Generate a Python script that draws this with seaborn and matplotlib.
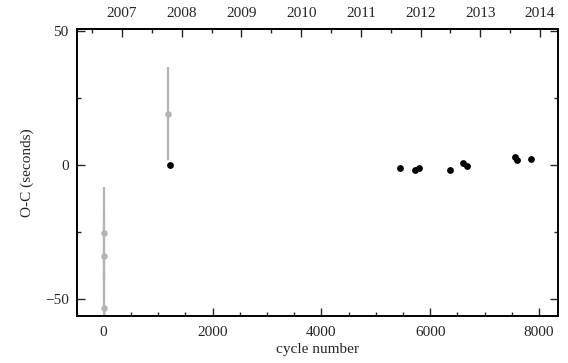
import numpy as np
import pandas as pd
import matplotlib
matplotlib.use("Agg")
import matplotlib.pyplot as plt
import seaborn as sns
from matplotlib.ticker import MultipleLocator, FixedLocator

sns.set_theme(style="ticks")
plt.rcParams['font.family'] = ['Liberation Serif', 'DejaVu Serif']

# Early (gray) timings with error bars
gray_cycle = [0, 5, 10, 1180]
gray_oc = [-25.5, -34.0, -53.5, 19.0]
gray_err = [17.0, 16.0, 14.0, 17.3]

# Later (black) timings
black_cycle = [1210, 5440, 5713, 5787, 6357, 6603, 6676, 7564, 7595, 7858]
black_oc = [-0.3, -1.1, -1.9, -1.3, -1.9, 0.5, -0.5, 2.7, 1.8, 2.1]

years = [2007, 2008, 2009, 2010, 2011, 2012, 2013, 2014]
year0_cycle = 335.0
cycles_per_year = 1098.0

df_gray = pd.DataFrame({"cycle": gray_cycle, "oc": gray_oc, "err": gray_err})
df_black = pd.DataFrame({"cycle": black_cycle, "oc": black_oc})

fig = plt.figure(figsize=(5.68, 3.63), dpi=100)
ax = fig.add_axes([0.1356, 0.1295, 0.8468, 0.7895])

gcol = "#b4b4b4"
ax.errorbar(df_gray["cycle"], df_gray["oc"], yerr=df_gray["err"], fmt="none",
            ecolor=gcol, elinewidth=1.6, capsize=0, zorder=1)
sns.scatterplot(data=df_gray, x="cycle", y="oc", ax=ax, color=gcol, s=22,
                edgecolor=gcol, linewidth=0, zorder=2, legend=False)
sns.scatterplot(data=df_black, x="cycle", y="oc", ax=ax, color="black", s=24,
                edgecolor="black", linewidth=0, zorder=3, legend=False)

ax.set_xlim(-490, 8350)
ax.set_ylim(-56.5, 50.5)
ax.xaxis.set_major_locator(MultipleLocator(2000))
ax.xaxis.set_minor_locator(MultipleLocator(500))
ax.yaxis.set_major_locator(MultipleLocator(50))
ax.yaxis.set_minor_locator(MultipleLocator(25))
ax.set_xlabel("cycle number", fontsize=11, labelpad=3)
ax.set_ylabel("O-C (seconds)", fontsize=11, labelpad=8)
ax.tick_params(which="both", direction="in", top=False, right=True, labelsize=11, width=1.0)
ax.tick_params(axis="x", which="both", pad=7)
ax.tick_params(axis="y", which="both", pad=6)
ax.tick_params(which="major", length=6)
ax.tick_params(which="minor", length=3)
ax.yaxis.set_major_formatter(matplotlib.ticker.FuncFormatter(
    lambda v, p: ("\u2212%d" % abs(v)) if v < 0 else "%d" % v))
for s in ax.spines.values():
    s.set_linewidth(1.4)
    s.set_color("black")

c2y = lambda c: years[0] + (np.asarray(c) - year0_cycle) / cycles_per_year
y2c = lambda y: year0_cycle + (np.asarray(y) - years[0]) * cycles_per_year
sec = ax.secondary_xaxis("top", functions=(c2y, y2c))
sec.xaxis.set_major_locator(FixedLocator(years))
sec.xaxis.set_minor_locator(MultipleLocator(0.5))
sec.tick_params(which="both", direction="in", labelsize=11, width=1.0, pad=7)
sec.tick_params(which="major", length=6)
sec.tick_params(which="minor", length=3)
sec.spines["top"].set_linewidth(1.4)

fig.savefig("out.png", dpi=100)
